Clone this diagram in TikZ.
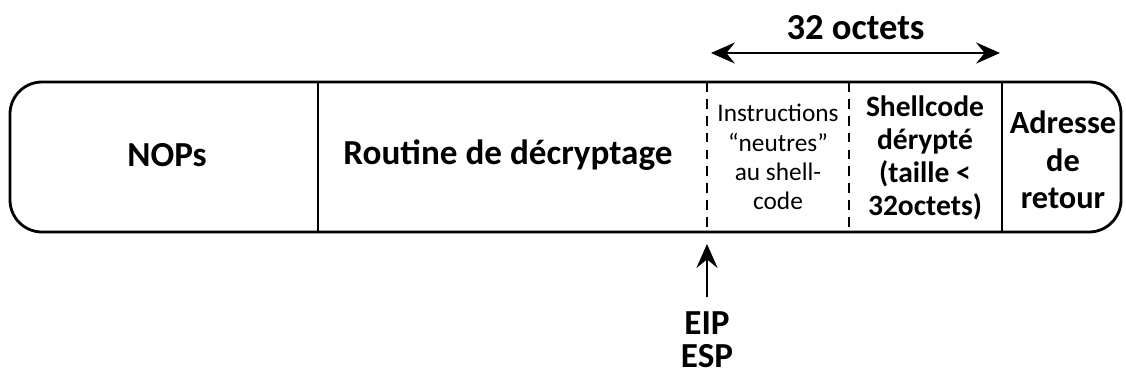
\documentclass[tikz,border=0pt]{standalone}
\usepackage{fontspec}
\setmainfont{Carlito}
\usetikzlibrary{arrows.meta}
\usetikzlibrary{positioning}
\tikzset{%
  myedge/.style={->, line width=1.5pt, >={Stealth[length=17pt, width=15pt, inset=6pt]}},
  mybox/.style={line width=2pt, rounded corners=0.8cm},
  mysep/.style={line width=1.5pt},
  mydash/.style={line width=1.5pt, dash pattern=on 7pt off 5pt},
  bigtext/.style={align=center, font=\bfseries\fontsize{25}{23.5}\selectfont},
  midtext/.style={align=center, font=\bfseries\fontsize{21}{23.5}\selectfont},
  smalltext/.style={align=center, font=\fontsize{18}{20.8}\selectfont}
}

\begin{document}
\begin{tikzpicture}[x=0.025cm, y=-0.025cm]
  \useasboundingbox (0,0) rectangle (1126,376);

  % the buffer
  \draw[mybox] (10,82) rectangle (1121,232);
  \coordinate (s1t) at (318,82);  \coordinate (s1b) at (318,232);
  \coordinate (d1t) at (707,82);  \coordinate (d1b) at (707,232);
  \coordinate (d2t) at (849,82);  \coordinate (d2b) at (849,232);
  \coordinate (s2t) at (1002,82); \coordinate (s2b) at (1002,232);
  \draw[mysep] (s1t) -- (s1b);
  \draw[mysep] (s2t) -- (s2b);
  \draw[mydash] (d1t) -- (d1b);
  \draw[mydash] (d2t) -- (d2b);

  \node[bigtext] (nops) at (167,155) {NOPs};
  \node[bigtext] (routine) at (508,155) {Routine de décryptage};
  \node[smalltext] (neutre) at (778,157) {Instructions\\“neutres”\\au shell-\\code};
  \node[midtext] (shell) at (925,158) {Shellcode\\dérypté\\(taille <\\32octets)};
  \node[midtext, font=\bfseries\fontsize{23}{26.7}\selectfont] (retour) at (1063,160) {Adresse\\de\\retour};

  % size of the decrypted part
  \coordinate (l32) at (711,53);
  \coordinate (r32) at (1000,53);
  \draw[myedge, <->] (l32) -- (r32) node[midway, above=5pt, bigtext, font=\bfseries\fontsize{26}{24}\selectfont] (taille) {32 octets};

  % registers
  \coordinate (eip) at (707,244);
  \node[bigtext, inner sep=2pt, below=46pt of eip] (regs) {EIP\\ESP};
  \draw[myedge, shorten <=8pt] (regs) -- (eip);
\end{tikzpicture}
\end{document}
